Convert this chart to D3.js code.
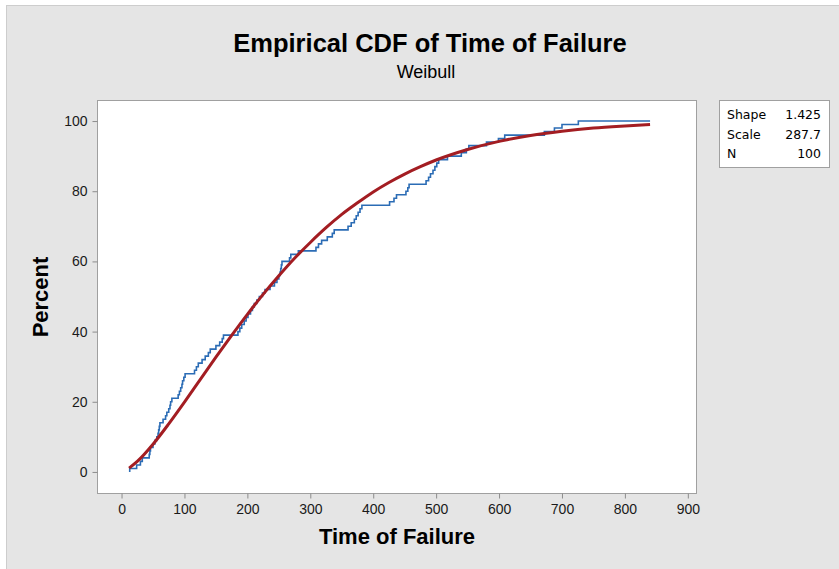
<!DOCTYPE html>
<html>
<head>
<meta charset="utf-8">
<script src="https://cdn.jsdelivr.net/npm/d3@7"></script>
<style>
  html, body { margin: 0; padding: 0; background: #fff; }
  svg { display: block; }
</style>
</head>
<body>
<div id="chart"></div>
<script>
// Empirical CDF of Time of Failure, with fitted Weibull line
// Values.

// Sorted failure times (N = 100), one step of 1% each
var failureTimes = [
    13, 24, 30, 33, 44, 45, 46, 50, 53, 56,
    58, 59, 60, 61, 66, 70, 72, 75, 77, 78,
    80, 90, 92, 94, 96, 97, 99, 101, 116, 119,
    122, 128, 133, 138, 141, 150, 156, 160, 162, 185,
    188, 191, 195, 198, 201, 205, 208, 211, 215, 219,
    224, 228, 236, 243, 247, 250, 252, 253, 254, 255,
    267, 269, 281, 309, 313, 318, 327, 335, 338, 360,
    365, 370, 373, 376, 379, 382, 426, 433, 437, 452,
    455, 457, 484, 488, 491, 495, 498, 501, 504, 518,
    540, 548, 552, 580, 599, 609, 672, 688, 700, 726
];

// Fitted Weibull line (percent at time)
var fitTimes   = [12, 25, 50, 75, 100, 125, 150, 175, 200, 225, 250, 275, 300,
                  325, 350, 375, 400, 425, 450, 475, 500, 550, 600, 650, 700, 750, 800, 840];
var fitPercent = [1.1, 3.0, 7.9, 13.7, 19.9, 26.3, 32.7, 38.9, 44.9, 50.6, 55.9, 60.9, 65.4,
                  69.6, 73.4, 76.7, 79.8, 82.5, 84.9, 87.0, 88.9, 91.9, 94.2, 95.9, 97.1, 98.0, 98.6, 99.0];

var xTicks = [0, 100, 200, 300, 400, 500, 600, 700, 800, 900];
var yTicks = [0, 20, 40, 60, 80, 100];

var statLabels = ["Shape", "Scale", "N"];
var statValues = ["1.425", "287.7", "100"];

var W = 839, H = 569;
var plot = { left: 97, top: 100, right: 696, bottom: 493 };
var sansFont = "'Liberation Sans', Arial, sans-serif";

var svg = d3.select("#chart").append("svg")
    .attr("width", W)
    .attr("height", H);

// --- Figure background ---
svg.append("rect")
    .attr("x", 6.5).attr("y", 5.5)
    .attr("width", W - 6).attr("height", H - 5)
    .attr("fill", "#e5e5e5")
    .attr("stroke", "#cdcdcd");

// --- Scales ---
var x = d3.scaleLinear().domain([-39, 913]).range([plot.left, plot.right]);
var y = d3.scaleLinear().domain([-6, 106]).range([plot.bottom, plot.top]);

// --- Data region ---
svg.append("rect")
    .attr("x", plot.left + 0.5).attr("y", plot.top + 0.5)
    .attr("width", plot.right - plot.left).attr("height", plot.bottom - plot.top)
    .attr("fill", "#fff")
    .attr("stroke", "#a0a0a0");

// --- Axes ---
var xAxis = svg.append("g")
    .attr("transform", "translate(0," + (plot.bottom + 0.5) + ")")
    .call(d3.axisBottom(x).tickValues(xTicks).tickSize(5).tickPadding(6));

var yAxis = svg.append("g")
    .attr("transform", "translate(" + (plot.left + 0.5) + ",0)")
    .call(d3.axisLeft(y).tickValues(yTicks).tickSize(5).tickPadding(5));

[xAxis, yAxis].forEach(function(ax) {
    ax.select(".domain").remove();
    ax.selectAll("line").attr("stroke", "#8c8c8c");
    ax.selectAll("text")
        .style("font-family", sansFont)
        .style("font-size", "14px")
        .attr("fill", "#1a1a1a");
});

// --- Axis labels ---
svg.append("text")
    .attr("x", 397).attr("y", 544)
    .attr("text-anchor", "middle")
    .style("font-family", sansFont)
    .style("font-size", "22px")
    .style("font-weight", "bold")
    .text("Time of Failure");

svg.append("text")
    .attr("transform", "translate(48,297) rotate(-90)")
    .attr("text-anchor", "middle")
    .style("font-family", sansFont)
    .style("font-size", "22px")
    .style("font-weight", "bold")
    .text("Percent");

// --- Title ---
svg.append("text")
    .attr("x", 430).attr("y", 52)
    .attr("text-anchor", "middle")
    .style("font-family", sansFont)
    .style("font-size", "25.5px")
    .style("font-weight", "bold")
    .text("Empirical CDF of Time of Failure");

svg.append("text")
    .attr("x", 426).attr("y", 78)
    .attr("text-anchor", "middle")
    .style("font-family", sansFont)
    .style("font-size", "18px")
    .text("Weibull");

// --- Empirical step line ---
var n = failureTimes.length;
var stepPts = [{ t: failureTimes[0], p: 0 }];
failureTimes.forEach(function(t, i) {
    stepPts.push({ t: t, p: (i + 1) / n * 100 });
});
stepPts.push({ t: fitTimes[fitTimes.length - 1], p: 100 });

var stepLine = d3.line()
    .curve(d3.curveStepAfter)
    .x(function(d) { return x(d.t); })
    .y(function(d) { return y(d.p); });

svg.append("path")
    .datum(stepPts)
    .attr("fill", "none")
    .attr("stroke", "#2b6cb5")
    .attr("stroke-width", 1.6)
    .attr("d", stepLine);

// --- Fitted line ---
var fitPts = fitTimes.map(function(t, i) { return { t: t, p: fitPercent[i] }; });

var fitLine = d3.line()
    .curve(d3.curveMonotoneX)
    .x(function(d) { return x(d.t); })
    .y(function(d) { return y(d.p); });

svg.append("path")
    .datum(fitPts)
    .attr("fill", "none")
    .attr("stroke", "#a31d22")
    .attr("stroke-width", 3)
    .attr("stroke-linejoin", "round")
    .attr("d", fitLine);

// --- Stats box ---
var box = svg.append("g").attr("transform", "translate(719.5,100.5)");
box.append("rect")
    .attr("width", 110).attr("height", 67)
    .attr("fill", "#fff")
    .attr("stroke", "#a0a0a0");

statLabels.forEach(function(lbl, i) {
    var by = 18.5 + i * 19.5;
    box.append("text")
        .attr("x", 7.5).attr("y", by)
        .style("font-family", "'DejaVu Sans', Verdana, sans-serif")
        .style("font-size", "12.5px")
        .text(lbl);
    box.append("text")
        .attr("x", 101.5).attr("y", by)
        .attr("text-anchor", "end")
        .style("font-family", "'DejaVu Sans', Verdana, sans-serif")
        .style("font-size", "12.5px")
        .text(statValues[i]);
});
</script>
</body>
</html>
